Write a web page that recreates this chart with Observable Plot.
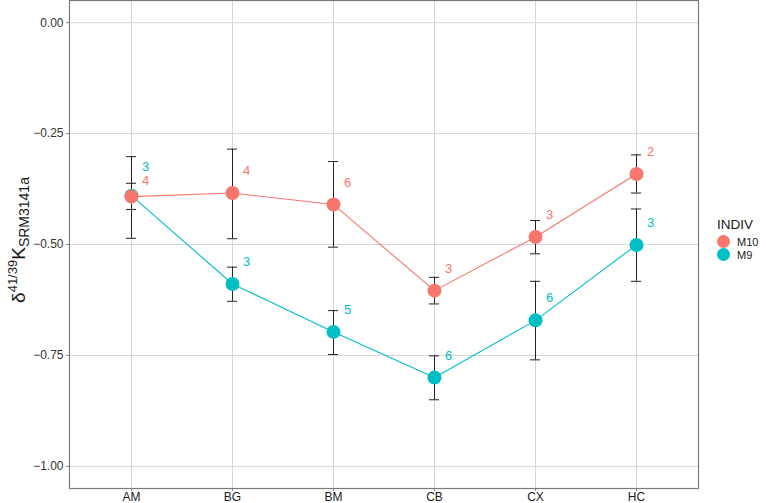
<!DOCTYPE html>
<html>
<head>
<meta charset="utf-8">
<script src="https://cdn.jsdelivr.net/npm/d3@7"></script>
<script src="https://cdn.jsdelivr.net/npm/@observablehq/plot@0.6"></script>
<style>
  html, body { margin: 0; padding: 0; background: #fff; }
  #wrap { position: relative; width: 766px; height: 503px; font-family: "Liberation Sans", Arial, sans-serif; }
  #legend { position: absolute; left: 716px; top: 217px; font-size: 11px; color: #1a1a1a; }
  #legend .title { font-size: 13.5px; margin-bottom: 3px; margin-left: 1px; }
  #legend .row { display: flex; align-items: center; height: 13px; }
  #legend .sw { width: 13px; height: 13px; border-radius: 50%; margin-right: 7px; margin-left: 1px; }
</style>
</head>
<body>
<div id="wrap"></div>
<script>
// ---- data ----
const sites = ["AM", "BG", "BM", "CB", "CX", "HC"];
const seriesNames = ["M10", "M9"];
const seriesColors = ["#F8766D", "#00BFC4"];

const m10Mean = [-0.392, -0.384, -0.410, -0.604, -0.483, -0.341];
const m10Low  = [-0.421, -0.487, -0.506, -0.634, -0.521, -0.384];
const m10High = [-0.362, -0.285, -0.313, -0.574, -0.446, -0.298];
const m10N    = [4, 4, 6, 3, 3, 2];

const m9Mean = [-0.390, -0.589, -0.697, -0.800, -0.671, -0.501];
const m9Low  = [-0.486, -0.628, -0.748, -0.850, -0.760, -0.583];
const m9High = [-0.302, -0.551, -0.649, -0.751, -0.583, -0.420];
const m9N    = [3, 3, 5, 6, 6, 3];

const yTicks = [0, -0.25, -0.5, -0.75, -1];

// ---- build table (M9 first so M10 is drawn on top) ----
function rows(name, mean, lo, hi, n) {
  return sites.map((s, i) => ({site: s, indiv: name, mean: mean[i], lo: lo[i], hi: hi[i], n: n[i]}));
}
const data = [
  ...rows("M9", m9Mean, m9Low, m9High, m9N),
  ...rows("M10", m10Mean, m10Low, m10High, m10N)
];

// label positions: nudged above the mean, simple repel when two labels collide
const labelNudge = 0.05;
data.forEach(d => d.ly = d.mean + labelNudge);
for (const s of sites) {
  const ds = data.filter(d => d.site === s).sort((a, b) => b.ly - a.ly);
  for (let i = 1; i < ds.length; i++) {
    const gap = ds[i - 1].ly - ds[i].ly;
    const minGap = 0.032;
    if (gap < minGap) {
      const push = (minGap - gap) / 2;
      ds[i - 1].ly += push;
      ds[i].ly -= push;
    }
  }
}

const color = {domain: seriesNames, range: seriesColors};

const plot = Plot.plot({
  width: 766,
  height: 503,
  marginLeft: 69,
  marginRight: 68,
  marginTop: 0,
  marginBottom: 15,
  style: {fontFamily: "Liberation Sans, Arial, sans-serif", background: "#fff"},
  x: {type: "point", domain: sites, padding: 0.6, label: null},
  y: {domain: [-1.05, 0.05], label: null},
  color,
  marks: [
    Plot.gridX(sites, {stroke: "#d6d6d6", strokeOpacity: 1, strokeWidth: 1}),
    Plot.gridY(yTicks, {stroke: "#d6d6d6", strokeOpacity: 1, strokeWidth: 1}),
    Plot.axisX({tickSize: 3, tickPadding: 1, fontSize: 12, stroke: "#888", color: "#1a1a1a", label: null}),
    Plot.axisY({ticks: yTicks, tickFormat: d3.format(".2f"), tickSize: 3, tickPadding: 3, fontSize: 12, stroke: "#888", color: "#333", label: null}),
    Plot.ruleX(data, {x: "site", y1: "lo", y2: "hi", stroke: "#222", strokeWidth: 1}),
    Plot.ruleY(data, {x1: "site", x2: "site", y: "lo", stroke: "#222", strokeWidth: 1, insetLeft: -5, insetRight: -5}),
    Plot.ruleY(data, {x1: "site", x2: "site", y: "hi", stroke: "#222", strokeWidth: 1, insetLeft: -5, insetRight: -5}),
    Plot.line(data, {x: "site", y: "mean", z: "indiv", stroke: "indiv", strokeWidth: 1.1}),
    Plot.dot(data, {x: "site", y: "mean", fill: "indiv", r: 7, stroke: null}),
    Plot.text(data, {x: "site", y: "ly", text: "n", fill: "indiv", dx: 14, fontSize: 13}),
    Plot.frame({stroke: "#7a7a7a", strokeWidth: 1.2})
  ]
});

document.getElementById("wrap").appendChild(plot);

// y-axis title with superscript and subscript
const svg = d3.select(plot);
const t = svg.append("text")
  .attr("transform", "translate(25,240) rotate(-90)")
  .attr("text-anchor", "middle")
  .attr("fill", "#1a1a1a")
  .style("font-family", "Liberation Sans, Arial, sans-serif")
  .style("font-size", "19px");
t.append("tspan").text("δ");
t.append("tspan").attr("dy", -8).style("font-size", "13px").text("41/39");
t.append("tspan").attr("dy", 8).text("K");
t.append("tspan").attr("dy", 4).style("font-size", "14px").text("SRM3141a");

// legend
const lg = document.createElement("div");
lg.id = "legend";
lg.innerHTML = '<div class="title">INDIV</div>' + seriesNames.map((n, i) =>
  `<div class="row"><div class="sw" style="background:${seriesColors[i]}"></div><span>${n}</span></div>`).join("");
document.getElementById("wrap").appendChild(lg);
</script>
</body>
</html>
